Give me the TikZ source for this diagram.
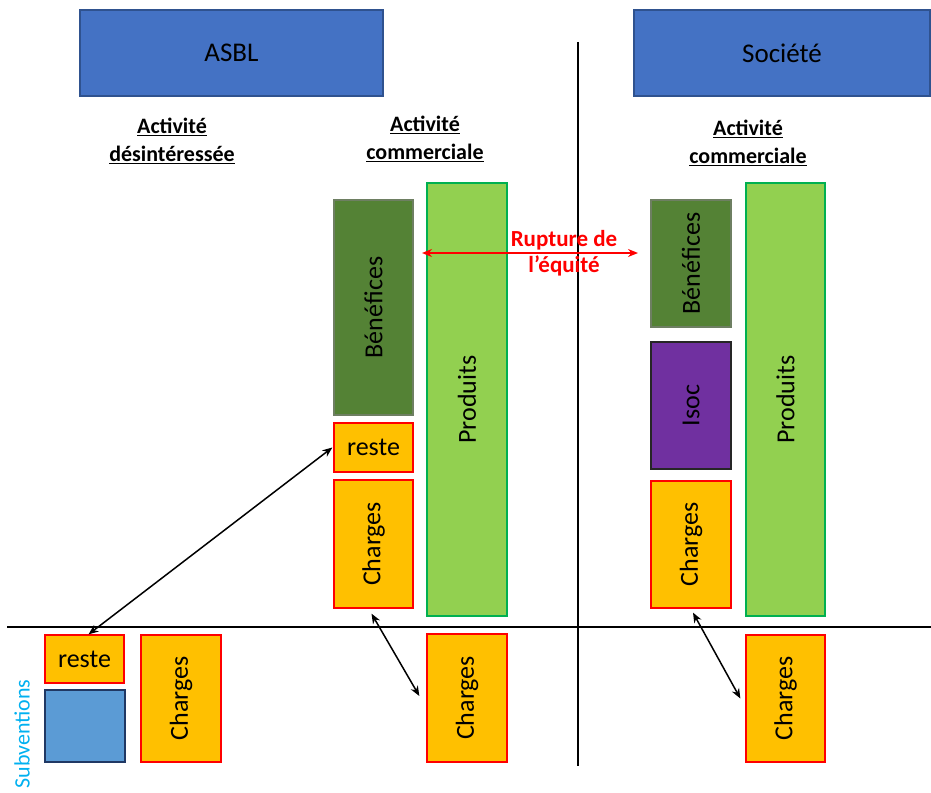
\documentclass[tikz,border=0pt]{standalone}
\usepackage{fontspec}
\setmainfont{Carlito}
\usetikzlibrary{arrows.meta}
\definecolor{hdrblue}{HTML}{4472C4}
\definecolor{hdrborder}{HTML}{2F528F}
\definecolor{oran}{HTML}{FFC000}
\definecolor{dkgreen}{HTML}{548235}
\definecolor{dkgreenb}{HTML}{6E7F62}
\definecolor{ltgreen}{HTML}{92D050}
\definecolor{ltgreenb}{HTML}{00B050}
\definecolor{purp}{HTML}{7030A0}
\definecolor{sqblue}{HTML}{5B9BD5}
\definecolor{sqblueb}{HTML}{203864}
\definecolor{subv}{HTML}{00B0F0}
\tikzset{
  bx/.style={rectangle, inner sep=0pt, line width=1.3pt, font=\fontsize{26}{28}\selectfont, text=black},
  hdr/.style={bx, fill=hdrblue, draw=hdrborder, font=\fontsize{27}{30}\selectfont},
  ora/.style={bx, fill=oran, draw=red},
  bene/.style={bx, fill=dkgreen, draw=dkgreenb},
  prod/.style={bx, fill=ltgreen, draw=ltgreenb},
  isoc/.style={bx, fill=purp, draw=black!85},
  sq/.style={bx, fill=sqblue, draw=sqblueb},
  ttl/.style={align=center, font=\fontsize{22}{28}\selectfont\bfseries},
  dbl/.style={{Stealth[length=10pt,width=8pt]}-{Stealth[length=10pt,width=8pt]}, line width=1.5pt},
  axis/.style={line width=1.8pt, black}
}
\begin{document}
\begin{tikzpicture}[x=1pt,y=-1pt]
\useasboundingbox (0,0) rectangle (931,792);
% header boxes
\node[hdr, minimum width=303, minimum height=86] (asbl) at (231.5,53) {ASBL};
\node[hdr, minimum width=296, minimum height=86] (soc) at (782,53) {Société};
% axes
\coordinate (vt) at (578,42);
\coordinate (vb) at (578,766);
\coordinate (hl) at (7,627);
\coordinate (hr) at (931,627);
\draw[axis] (vt) -- (vb);
\draw[axis] (hl) -- (hr);
% titles
\node[ttl] (t1) at (172,141) {\underline{Activité}\\\underline{désintéressée}};
\node[ttl] (t2) at (425,139) {\underline{Activité}\\\underline{commerciale}};
\node[ttl] (t3) at (748,143) {\underline{Activité}\\\underline{commerciale}};
% ASBL commercial column
\node[bene, minimum width=79, minimum height=215] (benL) at (373.5,307.5) {\rotatebox{90}{Bénéfices}};
\node[ora, minimum width=79, minimum height=49] (resteL) at (373.5,447.5) {reste};
\node[ora, minimum width=79, minimum height=128] (chL) at (373.5,544) {\rotatebox{90}{Charges}};
\node[prod, minimum width=80, minimum height=433] (prodL) at (467,399.5) {\rotatebox{90}{Produits}};
\node[ora, minimum width=80, minimum height=128] (chLb) at (467,698) {\rotatebox{90}{Charges}};
% Société column
\node[bene, minimum width=80, minimum height=127] (benR) at (691,263.5) {\rotatebox{90}{Bénéfices}};
\node[isoc, minimum width=80, minimum height=127] (isoc) at (691,405.5) {\rotatebox{90}{Isoc}};
\node[ora, minimum width=80, minimum height=127] (chR) at (691,544.5) {\rotatebox{90}{Charges}};
\node[prod, minimum width=79, minimum height=433] (prodR) at (785.5,399.5) {\rotatebox{90}{Produits}};
\node[ora, minimum width=79, minimum height=127] (chRb) at (785.5,698.5) {\rotatebox{90}{Charges}};
% ASBL disinterested
\node[ora, minimum width=79, minimum height=48] (resteB) at (84.5,659) {reste};
\node[sq, minimum width=80, minimum height=72] (sqb) at (85,726) {};
\node[ora, minimum width=80, minimum height=127] (chB) at (181,698.5) {\rotatebox{90}{Charges}};
\node[text=subv, font=\fontsize{22}{26}\selectfont, rotate=90] (subv) at (22,734) {Subventions};
% rupture arrow
\coordinate (rA) at (422,253);
\coordinate (rB) at (638,253);
\draw[dbl, red, line width=2pt] (rA) -- (rB);
\node[ttl, text=red, font=\fontsize{23}{26}\selectfont\bfseries] (rup) at (564,253) {Rupture de\\l’équité};
% black arrows
\draw[dbl] ([xshift=4]resteB.north) -- ([xshift=-1]resteL.west);
\draw[dbl] ([xshift=-2,yshift=-5]chL.south) -- ([xshift=-7,yshift=2]chLb.west);
\draw[dbl] ([xshift=2,yshift=-4]chR.south) -- ([xshift=-5]chRb.west);
\end{tikzpicture}
\end{document}
